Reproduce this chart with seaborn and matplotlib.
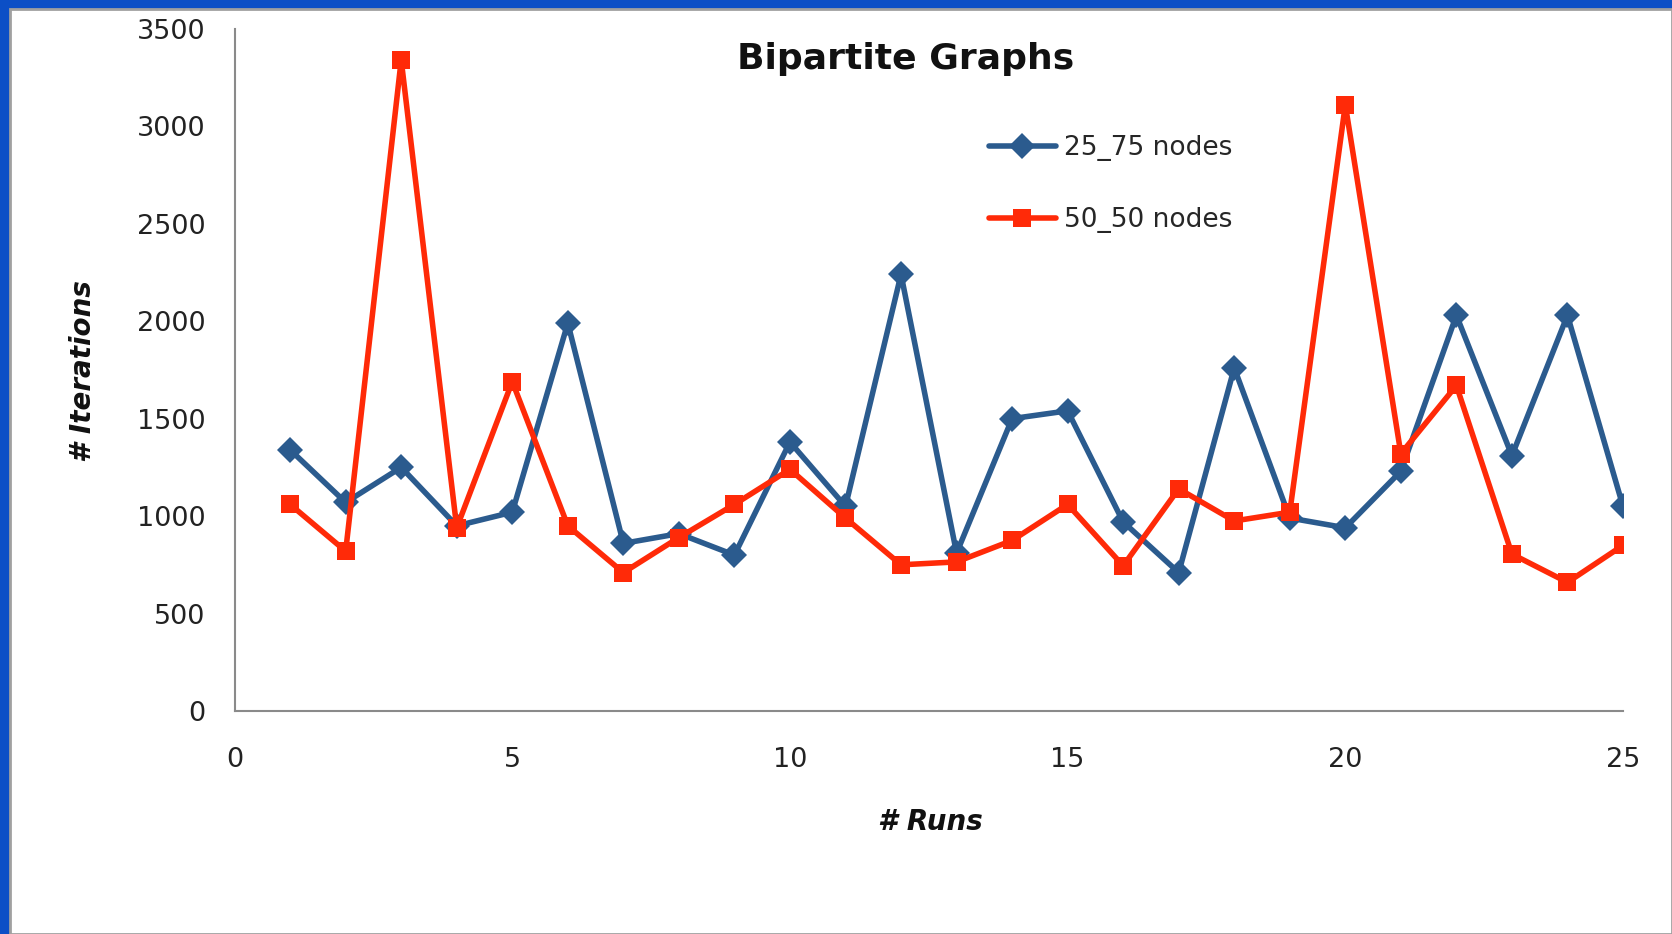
import matplotlib
matplotlib.use("Agg")
import matplotlib.pyplot as plt
import seaborn as sns
from matplotlib.patches import Rectangle

runs = list(range(1, 26))
nodes_25_75 = [1340, 1070, 1250, 950, 1020, 1990, 860, 910, 800, 1380, 1050, 2240, 810,
               1500, 1540, 970, 710, 1760, 990, 940, 1230, 2030, 1310, 2030, 1050]
nodes_50_50 = [1060, 820, 3340, 940, 1690, 950, 710, 890, 1060, 1240, 990, 750, 765,
               875, 1060, 745, 1140, 975, 1020, 3110, 1320, 1670, 805, 660, 850]
series_labels = ["25_75 nodes", "50_50 nodes"]
x_ticks = [0, 5, 10, 15, 20, 25]
y_ticks = [0, 500, 1000, 1500, 2000, 2500, 3000, 3500]

sns.set_theme(style="white")
plt.rcParams['font.family'] = ['DejaVu Sans']

W, H = 1672, 934
fig = plt.figure(figsize=(W / 100, H / 100), dpi=100)
fig.patch.set_facecolor("#0c4fc6")
bg = Rectangle((10 / W, 0), 1 - 10 / W, 1 - 9 / H,
               transform=fig.transFigure, facecolor="white",
               edgecolor="#a0a0a0", linewidth=2, zorder=-10)
fig.patches.append(bg)

ax_l, ax_r, ax_b, ax_t = 234.6, 1623, 711, 28.8
ax = fig.add_axes([ax_l / W, 1 - ax_b / H, (ax_r - ax_l) / W, (ax_b - ax_t) / H])
ax.set_facecolor("none")
ax.set_zorder(5)

blue = "#2b5b8e"
red = "#ff2a08"
sns.lineplot(x=runs, y=nodes_25_75, ax=ax, color=blue, linewidth=4, marker="D",
             markersize=13, markeredgewidth=0, label=series_labels[0])
sns.lineplot(x=runs, y=nodes_50_50, ax=ax, color=red, linewidth=4, marker="s",
             markersize=13, markeredgewidth=0, label=series_labels[1])

ax.set_xlim(0, 25)
ax.set_ylim(0, 3500)
ax.set_xticks(x_ticks)
ax.set_yticks(y_ticks)
ax.tick_params(axis="both", length=0, labelsize=19.5, colors="#222222")
ax.tick_params(axis="x", pad=26)
ax.tick_params(axis="y", pad=21)
for s in ["top", "right"]:
    ax.spines[s].set_visible(False)
for s in ["left", "bottom"]:
    ax.spines[s].set_color("#8a8a8a")
    ax.spines[s].set_linewidth(1.5)

ax.set_xlabel("# Runs", fontsize=20, fontweight="bold", fontstyle="italic", color="#111111")
ax.set_ylabel("# Iterations", fontsize=20, fontweight="bold", fontstyle="italic", color="#111111")
ax.xaxis.set_label_coords(0.501, -0.1627)
ax.xaxis.label.set_va("center")
ax.yaxis.set_label_coords((83 - ax_l) / (ax_r - ax_l), 0.498)
ax.yaxis.label.set_va("center")

fig.text(906 / W, 1 - 58.6 / H, "Bipartite Graphs", ha="center", va="center",
         fontsize=26, fontweight="bold", color="#111111")

leg = ax.legend(loc="center left", bbox_to_anchor=(0.543, 0.772), frameon=False,
                fontsize=19, handlelength=2.54, labelspacing=1.75, handletextpad=0.32,
                borderaxespad=0, borderpad=0)

fig.savefig("out.png", dpi=100, facecolor=fig.get_facecolor())
